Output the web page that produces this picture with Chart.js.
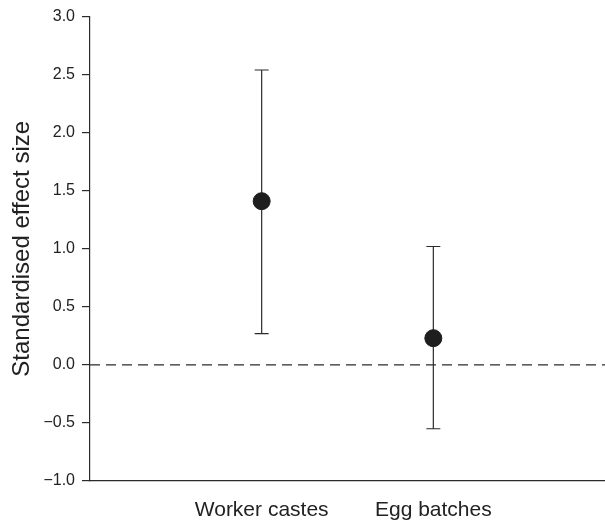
<!DOCTYPE html>
<html>
<head>
<meta charset="utf-8">
<script src="https://cdn.jsdelivr.net/npm/chart.js@4.4.0/dist/chart.umd.min.js"></script>
<style>
  html, body { margin: 0; padding: 0; background: #fff; }
  #wrap { width: 605px; height: 520px; }
</style>
</head>
<body>
<div id="wrap"><canvas id="myChart" width="605" height="520"></canvas></div>
<script>
// dados
const categorias = ['Worker castes', 'Egg batches'];
const efeito = [1.41, 0.23];
const limiteInferior = [0.27, -0.55];
const limiteSuperior = [2.54, 1.02];
const yTicks = [-1, -0.5, 0, 0.5, 1, 1.5, 2, 2.5, 3];

const corLinha = '#2b2b2b';
const corTexto = '#222222';
const fonte = 'Liberation Sans, Arial, sans-serif';

// barras de erro desenhadas com as escalas do gráfico
const barrasDeErro = {
    id: 'barrasDeErro',
    beforeDatasetsDraw(chart) {
        const { ctx, scales: { x, y } } = chart;
        ctx.save();
        ctx.strokeStyle = corLinha;
        ctx.lineWidth = 1.2;
        categorias.forEach((c, i) => {
            const px = x.getPixelForValue(i + 1);
            const yTop = y.getPixelForValue(limiteSuperior[i]);
            const yBot = y.getPixelForValue(limiteInferior[i]);
            ctx.beginPath();
            ctx.moveTo(px, yTop); ctx.lineTo(px, yBot);
            ctx.moveTo(px - 7, yTop); ctx.lineTo(px + 7, yTop);
            ctx.moveTo(px - 7, yBot); ctx.lineTo(px + 7, yBot);
            ctx.stroke();
        });
        ctx.restore();
    }
};

const ctx = document.getElementById('myChart').getContext('2d');
const myChart = new Chart(ctx, {
    type: 'scatter',
    data: {
        datasets: [
            {
                type: 'line',
                data: [{ x: 0, y: 0 }, { x: 3, y: 0 }],
                borderColor: corLinha,
                borderWidth: 1.3,
                borderDash: [10, 6],
                pointRadius: 0
            },
            {
                data: efeito.map((v, i) => ({ x: i + 1, y: v })),
                backgroundColor: '#1e1e1e',
                borderColor: '#1e1e1e',
                pointRadius: 8.5,
                pointHoverRadius: 8.5
            }
        ]
    },
    options: {
        responsive: false,
        animation: false,
        events: [],
        layout: { autoPadding: false, padding: { top: 15, right: 0, bottom: 0, left: 0 } },
        plugins: { legend: { display: false }, tooltip: { enabled: false } },
        scales: {
            x: {
                type: 'linear',
                min: 0,
                max: 3,
                afterBuildTicks: (axis) => { axis.ticks = [{ value: 1 }, { value: 2 }]; },
                afterFit: (axis) => { axis.height = 39; },
                grid: { display: false },
                border: { display: true, color: corLinha, width: 1.2 },
                ticks: {
                    color: corTexto,
                    padding: 9,
                    font: { family: fonte, size: 21 },
                    callback: (v) => categorias[v - 1]
                }
            },
            y: {
                min: -1,
                max: 3,
                afterBuildTicks: (axis) => { axis.ticks = yTicks.map(v => ({ value: v })); },
                afterFit: (axis) => { axis.width = 90; },
                grid: { drawOnChartArea: false, drawTicks: true, tickLength: 8, color: corLinha, lineWidth: 1.2 },
                border: { display: true, color: corLinha, width: 1.2 },
                ticks: {
                    color: corTexto,
                    padding: 7,
                    font: { family: fonte, size: 16 },
                    callback: (v) => (v < 0 ? '\u2212' + Math.abs(v).toFixed(1) : v.toFixed(1))
                },
                title: {
                    display: true,
                    text: 'Standardised effect size',
                    color: corTexto,
                    padding: { top: 8, bottom: 0 },
                    font: { family: fonte, size: 24 }
                }
            }
        }
    },
    plugins: [barrasDeErro]
});
</script>
</body>
</html>
